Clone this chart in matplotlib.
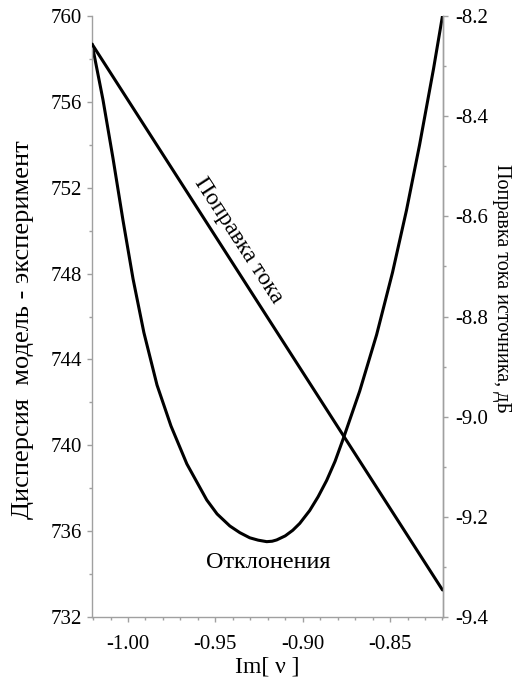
import matplotlib
matplotlib.use("Agg")
import matplotlib.pyplot as plt
from matplotlib.ticker import MultipleLocator, FormatStrFormatter

# Отклонения (left axis)
im_nu = [-1.0206, -1.0143, -1.0086, -1.0029, -0.9971, -0.9909, -0.9834, -0.9754,
         -0.9663, -0.9549, -0.9490, -0.9417, -0.9360, -0.9303, -0.9255, -0.9206,
         -0.9175, -0.9149, -0.9100, -0.9057, -0.9017, -0.8960, -0.8912, -0.8863,
         -0.8815, -0.8766, -0.8674, -0.8577, -0.8486, -0.8406, -0.8331, -0.8251,
         -0.8200]
dispersion = [758.70, 756.09, 753.38, 750.50, 747.75, 745.25, 742.81, 740.90,
              739.13, 737.45, 736.80, 736.24, 735.93, 735.69, 735.58, 735.51,
              735.53, 735.59, 735.78, 736.04, 736.36, 736.96, 737.60, 738.36,
              739.25, 740.35, 742.52, 745.15, 748.05, 750.95, 754.00, 757.55,
              760.00]

# Поправка тока (right axis)
im_nu_line = [-1.0206, -0.8200]
current_corr = [-8.256, -9.346]

plt.rcParams['font.family'] = ['Liberation Serif', 'DejaVu Serif']
grey = '#a0a0a0'

fig = plt.figure(figsize=(5.19, 6.8), dpi=100)
# axes box in pixels: left 92, right 443, top 16, bottom 617
ax = fig.add_axes([92 / 519, 1 - 617 / 680, 351 / 519, 601 / 680])
ax2 = ax.twinx()

ax.plot(im_nu, dispersion, color='black', lw=2.2, solid_joinstyle='round',
        solid_capstyle='round')
ax2.plot(im_nu_line, current_corr, color='black', lw=2.2, solid_capstyle='round')

ax.set_xlim(-1.0206, -0.8197)
ax.set_ylim(732, 760)
ax2.set_ylim(-9.4, -8.2)

ax.xaxis.set_major_locator(MultipleLocator(0.05))
ax.xaxis.set_minor_locator(MultipleLocator(0.01))
ax.yaxis.set_major_locator(MultipleLocator(4))
ax.yaxis.set_minor_locator(MultipleLocator(2))
ax2.yaxis.set_major_locator(MultipleLocator(0.2))
ax2.yaxis.set_minor_locator(MultipleLocator(0.1))
ax.xaxis.set_major_formatter(FormatStrFormatter('%.2f'))
ax.yaxis.set_major_formatter(FormatStrFormatter('%d'))
ax2.yaxis.set_major_formatter(FormatStrFormatter('%.1f'))

for a in (ax, ax2):
    a.spines['top'].set_visible(False)
    for side in ('left', 'right', 'bottom'):
        a.spines[side].set_color(grey)
        a.spines[side].set_linewidth(1.0)
    a.tick_params(which='both', colors=grey, labelcolor='black', direction='out',
                  width=1.0, labelsize=15)
    a.tick_params(which='major', length=3.8)
    a.tick_params(which='minor', length=2.4)
ax2.spines['left'].set_visible(False)
ax2.spines['bottom'].set_visible(False)

ax.tick_params(axis='y', pad=3.6)
ax.tick_params(axis='x', pad=9.5)
ax2.tick_params(axis='y', pad=5)

ax.set_xlabel('Im[ ν ]', fontsize=17)
ax.xaxis.set_label_coords(0.5, -0.065)

# y labels placed by centre
fig.text(23 / 519, 1 - 330 / 680, 'Дисперсия  модель - эксперимент', fontsize=19,
         rotation=90, ha='center', va='center')
fig.text(501 / 519, 1 - 288 / 680, 'Поправка тока источника, дБ', fontsize=14.5,
         rotation=-90, ha='center', va='center')

fig.text(238 / 519, 1 - 240 / 680, 'Поправка тока', fontsize=17, rotation=-57,
         ha='center', va='center')
fig.text(268 / 519, 1 - 562 / 680, 'Отклонения', fontsize=17.5, ha='center', va='center')

fig.savefig('out.png', dpi=100)
